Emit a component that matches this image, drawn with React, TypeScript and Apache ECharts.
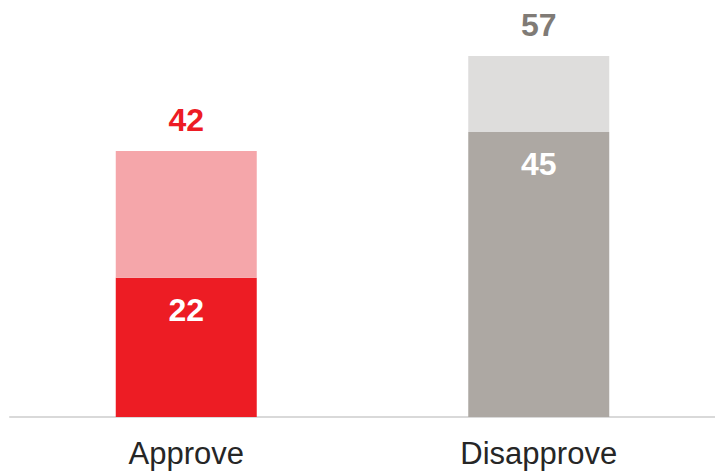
import React, { useEffect, useRef } from "react";
import * as echarts from "echarts";

const categories = ["Approve", "Disapprove"];
const strongValues = [22, 45];
const totalValues = [42, 57];
const strongColors = ["#ED1C24", "#ADA8A3"];
const lightColors = ["#F5A6AA", "#DEDDDC"];
const totalLabelColors = ["#ED1C24", "#807B76"];

export default function App() {
  const ref = useRef<HTMLDivElement>(null);
  useEffect(() => {
    if (!ref.current) return;
    const chart = echarts.init(ref.current, undefined, { renderer: "svg" });
    const restValues = totalValues.map((t, i) => t - strongValues[i]);
    chart.setOption({
      animation: false,
      grid: { left: 10, width: 708, top: 37, bottom: 55, containLabel: false },
      xAxis: {
        type: "category",
        data: categories,
        axisLine: { show: true, lineStyle: { color: "#D9D9D9", width: 2 } },
        axisTick: { show: false },
        axisLabel: {
          color: "#262626",
          fontSize: 31,
          fontFamily: "Liberation Sans, Arial, sans-serif",
          margin: 21,
        },
      },
      yAxis: {
        type: "value",
        min: 0,
        max: 60,
        show: false,
        splitLine: { show: false },
      },
      series: [
        {
          type: "bar",
          stack: "total",
          barWidth: "40%",
          data: strongValues.map((v, i) => ({
            value: v,
            itemStyle: { color: strongColors[i] },
          })),
          label: {
            show: true,
            position: "insideTop",
            distance: 16,
            color: "#FFFFFF",
            fontSize: 32,
            fontWeight: "bold",
            fontFamily: "Liberation Sans, Arial, sans-serif",
          },
        },
        {
          type: "bar",
          stack: "total",
          barWidth: "40%",
          data: restValues.map((v, i) => ({
            value: v,
            itemStyle: { color: lightColors[i] },
            label: {
              show: true,
              position: "top",
              distance: 15,
              formatter: String(totalValues[i]),
              color: totalLabelColors[i],
              fontSize: 32,
              fontWeight: "bold",
              fontFamily: "Liberation Sans, Arial, sans-serif",
            },
          })),
        },
      ],
    });
    return () => chart.dispose();
  }, []);
  return (
    <div
      ref={ref}
      style={{ position: "fixed", left: 0, top: 0, width: 715, height: 472, background: "#fff" }}
    />
  );
}
